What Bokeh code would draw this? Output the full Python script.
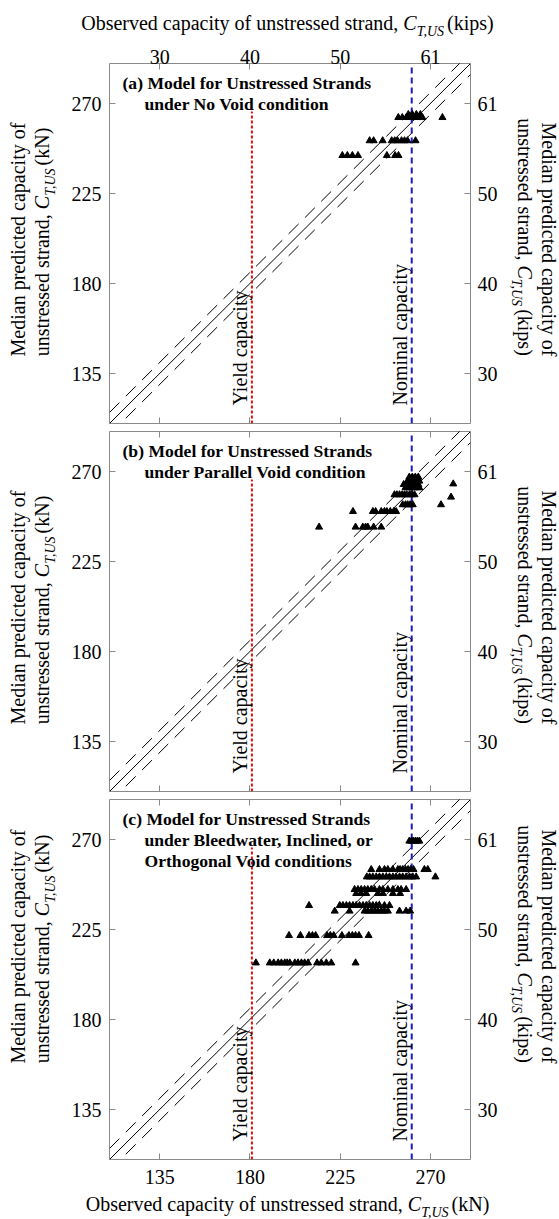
import math
from bokeh.plotting import figure
from bokeh.models import Range1d, LinearAxis, FixedTicker, Label
from bokeh.layouts import column, row
from bokeh.embed import file_html
from bokeh.resources import INLINE

FONT = "Liberation Serif"

# ---------------- data ----------------
ticks_kN = [135, 180, 225, 270]
ticks_kips = ["30", "40", "50", "61"]
axis_min, axis_max = 110, 290
yield_kN = 181
yield_line_top = 266
nominal_kN = 260.7
band_kN = 5.5

# (a) No Void: rows of (predicted, [observed ...])
a_rows = [
    (263.0, [254, 256, 258, 259, 260, 261, 262, 263, 264, 265, 266, 276]),
    (264.5, [259, 261, 263, 265]),
    (251.4, [239.7, 241.7, 246.2, 250.7, 252.2, 253.6, 255.6, 257.1, 258.6, 262.6]),
    (244.0, [226.1, 228.6, 231.1, 233.9, 248.3, 252.4, 254.1]),
]
# (b) Parallel Void
b_rows = [
    (267.2, [259.5, 261.0, 262.5, 264.0]),
    (265.2, [258.6, 260.0, 261.5, 263.0, 264.5]),
    (263.5, [256.7, 258.5, 260.0, 261.5, 263.0, 264.0]),
    (263.8, [281.4]),
    (261.9, [257.6, 259.0, 260.5, 262.0, 263.5, 264.5]),
    (258.4, [252.1, 253.3, 254.6, 255.9, 257.1, 258.2, 259.6, 260.9, 262.1]),
    (257.2, [280.3]),
    (253.4, [256.2, 257.6, 258.7, 259.9, 261.2, 275.3]),
    (250.0, [231.4, 241.3, 242.7, 245.5, 247.1, 248.3, 250.0, 251.8, 252.9]),
    (242.2, [214.5, 232.7, 236.3, 237.7, 238.8, 241.7, 245.5]),
]
# (c) Bleedwater, Inclined, or Orthogonal Void
c_rows = [
    (269.2, [259.5, 260.5, 261.5, 262.5, 263.5, 264.5]),
    (255.0, [240.5, 244.6, 247.1, 248.8, 251.3, 253.8, 254.9, 256.2, 257.6, 258.9, 260.2, 261.6, 267.0, 268.7]),
    (251.3, [238.3, 239.7, 241.3, 243.0, 244.6, 246.3, 248.0, 249.6, 251.3, 252.9, 254.6, 256.2, 257.9,
             259.6, 261.2, 262.9, 272.5]),
    (245.0, [232.2, 233.9, 235.5, 237.2, 238.8, 240.5, 242.2, 244.6, 246.3, 248.8, 251.3, 253.8, 255.4, 257.9]),
    (243.0, [233.0, 235.5, 238.0, 243.8, 246.3, 251.3, 254.9]),
    (237.0, [209.5, 224.8, 226.4, 228.1, 229.7, 231.4, 233.0, 234.7, 236.4, 238.0, 239.7, 241.3, 243.0,
             244.6, 247.1, 249.6]),
    (234.2, [222.3, 229.7, 237.2, 238.8, 240.5, 242.2, 243.8, 245.5, 247.1, 248.8, 254.6, 257.9, 259.9]),
    (222.0, [199.5, 205.2, 209.5, 211.2, 212.8, 218.5, 220.1, 221.8, 225.9, 229.4, 231.1, 232.7, 234.4, 239.2]),
    (208.3, [183.0, 189.9, 191.9, 194.1, 195.7, 197.4, 198.6, 199.9, 202.4, 204.0, 205.7, 207.3, 209.0,
             213.5, 215.6, 218.1, 220.6, 232.7]),
]

titles = [
    ["(a) Model for Unstressed Strands", "under No Void condition"],
    ["(b) Model for Unstressed Strands", "under Parallel Void condition"],
    ["(c) Model for Unstressed Strands", "under Bleedwater, Inclined, or", "Orthogonal Void conditions"],
]

# ---------------- text metrics (Times-like) ----------------
REG = {' ': 250, 'a': 444, 'b': 500, 'c': 444, 'd': 500, 'e': 444, 'f': 333, 'g': 500, 'h': 500,
       'i': 278, 'k': 500, 'l': 278, 'm': 778, 'n': 500, 'o': 500, 'p': 500, 'r': 333, 's': 389,
       't': 278, 'u': 500, 'v': 500, 'y': 500, ',': 250, '(': 333, ')': 333, 'C': 667, 'M': 889,
       'N': 722, 'O': 722}
ITA = {'C': 667, 'T': 556, ',': 250, 'U': 722, 'S': 500}
CORR = 0.36   # baseline correction (fraction of font size)


def tw(s, table, size):
    return sum(table.get(ch, 500) for ch in s) * size / 1000.0


FS = 20
SUB = 14


def title_pieces(prefix, suffix):
    return [(prefix, "normal", FS, 0), ("C", "italic", FS, 0), ("T,US", "italic", SUB, -6),
            (suffix, "normal", FS, 0)]


def pw(t, st, sz):
    w = tw(t, ITA if st == "italic" else REG, sz)
    return w + (2 if st == "italic" and sz == SUB else 0)


def pieces_width(pieces):
    return sum(pw(t, st, sz) for t, st, sz, d in pieces)


def add_h_title(p, pieces, cx, base_y):
    x = cx - pieces_width(pieces) / 2
    for t, st, sz, d in pieces:
        p.add_layout(Label(x=x, y=base_y + d + CORR * sz, x_units="screen", y_units="screen", text=t,
                           text_font=FONT, text_font_style=st, text_font_size=f"{sz}px",
                           text_align="left", text_baseline="alphabetic", text_color="black"))
        x += pw(t, st, sz)


def add_v_title(p, pieces, base_x, cy, up=True):
    total = pieces_width(pieces)
    y = cy - total / 2 if up else cy + total / 2
    for t, st, sz, d in pieces:
        if up:
            x = base_x - d - CORR * sz
        else:
            x = base_x + d + CORR * sz
        p.add_layout(Label(x=x, y=y, x_units="screen", y_units="screen", text=t,
                           text_font=FONT, text_font_style=st, text_font_size=f"{sz}px",
                           angle=(math.pi / 2 if up else -math.pi / 2),
                           text_align="left", text_baseline="alphabetic", text_color="black"))
        w = pw(t, st, sz)
        y = y + w if up else y - w


FW, FH = 361, 360
STRIP_L, STRIP_R = 60, 59
BORDER_L, BORDER_R = 49, 30
TOP_H, BOT_H = 40, 27
A_TOP, C_BOT = 23, 33


def blank(width, height):
    p = figure(width=width, height=height, x_range=Range1d(0, width), y_range=Range1d(0, height),
               output_backend="svg", toolbar_location=None, x_axis_location=None, y_axis_location=None,
               min_border=0, min_border_left=0, min_border_right=0, min_border_top=0, min_border_bottom=0)
    p.grid.visible = False
    p.outline_line_color = None
    p.background_fill_color = "white"
    p.border_fill_color = "white"
    return p


def make_axis(labels, overrides=None, standoff=6):
    ax = LinearAxis(ticker=FixedTicker(ticks=ticks_kN, minor_ticks=[]),
                    major_tick_in=6, major_tick_out=0, minor_tick_in=0, minor_tick_out=0,
                    axis_line_color=None, major_tick_line_color="#8a8a8a", major_tick_line_width=1,
                    major_label_text_font=FONT)
    if labels:
        ax.major_label_text_font_size = f"{FS}px"
        ax.major_label_text_color = "black"
        ax.major_label_standoff = standoff
        if overrides:
            ax.major_label_overrides = overrides
    else:
        ax.major_label_text_font_size = "0px"
        ax.major_label_text_color = None
        ax.major_label_standoff = 0
    return ax


kips_over = {k: v for k, v in zip(ticks_kN, ticks_kips)}


def make_panel(idx, rows, top_b, bot_b):
    p = figure(width=BORDER_L + FW + BORDER_R, height=top_b + FH + bot_b,
               x_range=Range1d(axis_min, axis_max), y_range=Range1d(axis_min, axis_max),
               output_backend="svg", toolbar_location=None,
               x_axis_location=None, y_axis_location=None,
               min_border_left=BORDER_L, min_border_right=BORDER_R,
               min_border_top=top_b, min_border_bottom=bot_b)
    p.grid.visible = False
    p.outline_line_color = "#8a8a8a"
    p.outline_line_width = 1
    p.background_fill_color = "white"
    p.border_fill_color = "white"

    p.add_layout(make_axis(True, standoff=8), "left")
    p.add_layout(make_axis(True, kips_over, standoff=7), "right")
    p.add_layout(make_axis(idx == 0, kips_over, standoff=0), "above")
    p.add_layout(make_axis(idx == 2, None, standoff=10), "below")

    dx = [axis_min, axis_max]
    p.line(dx, dx, line_color="black", line_width=1)
    p.line(dx, [v + band_kN for v in dx], line_color="black", line_width=1, line_dash="14 9")
    p.line(dx, [v - band_kN for v in dx], line_color="black", line_width=1, line_dash="14 9")

    p.line([yield_kN, yield_kN], [axis_min, yield_line_top], line_color="#dd1111", line_width=2,
           line_dash="3 2")
    p.line([nominal_kN, nominal_kN], [axis_min, axis_max], line_color="#1a1acc", line_width=2,
           line_dash="6 4")

    xs, ys = [], []
    for yv, xl in rows:
        for xv in xl:
            xs.append(xv)
            ys.append(yv)
    p.scatter(xs, ys, marker="triangle", size=7, color="black")

    off = -5 - CORR * 20
    p.add_layout(Label(x=yield_kN, y=119, x_offset=off, text="Yield capacity", angle=math.pi / 2,
                       text_font=FONT, text_font_size="20px", text_align="left",
                       text_baseline="alphabetic", text_color="black"))
    p.add_layout(Label(x=nominal_kN, y=119, x_offset=off, text="Nominal capacity", angle=math.pi / 2,
                       text_font=FONT, text_font_size="20px", text_align="left",
                       text_baseline="alphabetic", text_color="black"))

    for i, line in enumerate(titles[idx]):
        p.add_layout(Label(x=(13 if i == 0 else 35), y=FH - 26 - 21 * i + CORR * 17.5,
                           x_units="screen", y_units="screen", text=line,
                           text_font=FONT, text_font_style="bold", text_font_size="17.6px",
                           text_align="left", text_baseline="alphabetic", text_color="black"))
    return p


def side_strips(height, cy):
    left = blank(STRIP_L, height)
    add_v_title(left, [("Median predicted capacity of", "normal", FS, 0)], 25, cy, up=True)
    add_v_title(left, title_pieces("unstressed strand, ", " (kN)"), 49, cy, up=True)
    right = blank(STRIP_R, height)
    add_v_title(right, [("Median predicted capacity of", "normal", FS, 0)], 41, cy, up=False)
    add_v_title(right, title_pieces("unstressed strand, ", " (kips)"), 17, cy, up=False)
    return left, right


pa = make_panel(0, a_rows, A_TOP, 4)
pb = make_panel(1, b_rows, 4, 4)
pc = make_panel(2, c_rows, 4, C_BOT)

la, ra = side_strips(A_TOP + FH + 4, 4 + FH / 2)
lb, rb = side_strips(4 + FH + 4, 4 + FH / 2)
lc, rc = side_strips(4 + FH + C_BOT, C_BOT + FH / 2)

frame_cx = STRIP_L + BORDER_L + FW / 2
top = blank(559, TOP_H)
add_h_title(top, title_pieces("Observed capacity of unstressed strand, ", " (kips)"), frame_cx, TOP_H - 30)
bottom = blank(559, BOT_H)
add_h_title(bottom, title_pieces("Observed capacity of unstressed strand, ", " (kN)"), frame_cx, 8)

layout = column(top,
                row(la, pa, ra, spacing=0),
                row(lb, pb, rb, spacing=0),
                row(lc, pc, rc, spacing=0),
                bottom, spacing=0)
open("out.html", "w").write(file_html(layout, INLINE))
